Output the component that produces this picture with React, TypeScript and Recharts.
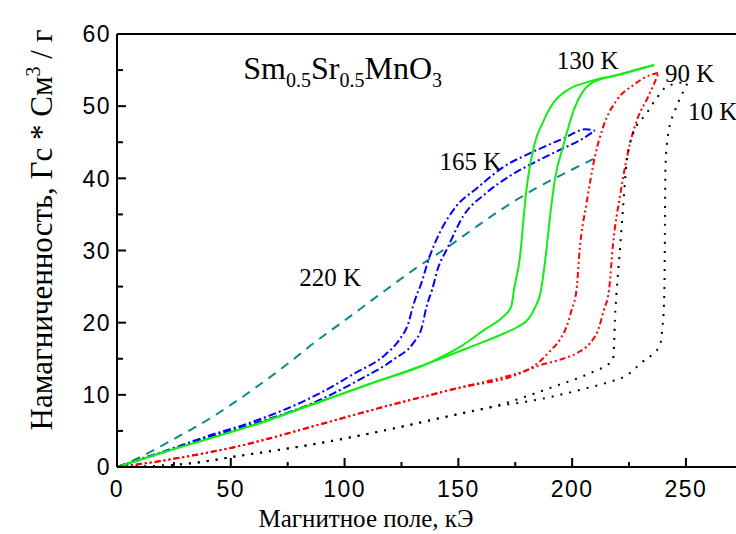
import React from "react";
import { LineChart, Line, XAxis, YAxis, ReferenceLine, ReferenceDot } from "recharts";

// Magnetization loops of Sm0.5Sr0.5MnO3 (field in kOe, moment in emu/g)
const field220 = [0, 5, 11, 20, 28, 36, 50, 60, 75, 87, 100, 118, 132, 145, 157, 168, 184, 198, 210];
const moment220 = [0, 0.6, 1.5, 3.0, 4.4, 5.8, 8.6, 10.8, 14.3, 17.3, 20.3, 24.5, 27.7, 30.4, 33.1, 35.5, 38.6, 40.9, 42.8];

const field165Up = [0, 10, 20, 40, 60, 87, 106, 122, 130, 134, 136, 138.5, 141, 145, 152, 162, 172, 184, 195, 203, 210];
const moment165Up = [0, 1.0, 2.0, 4.1, 6.0, 9.0, 12.0, 15.0, 17.1, 19.4, 22.2, 24.6, 27.5, 30.2, 34.7, 37.9, 40.2, 42.3, 44.0, 45.2, 46.6];
const field165Down = [0, 10, 20, 40, 60, 89, 104, 118, 124, 128, 130, 132, 133.2, 137.3, 141.7, 149, 158, 170, 183, 196, 206, 210];
const moment165Down = [0, 1.1, 2.1, 4.3, 6.3, 10.2, 12.9, 15.6, 17.6, 19.9, 22.2, 24.1, 25.0, 29.1, 32.4, 36.1, 38.6, 41.6, 43.7, 45.5, 46.8, 46.6];

const field130Up = [0, 10, 20, 40, 60, 87, 111, 137, 155, 170, 176, 181, 184, 186, 187.5, 189, 190.5, 192.5, 196, 201, 208, 221, 236];
const moment130Up = [0, 1.0, 2.0, 3.9, 5.8, 8.8, 11.5, 14.4, 16.6, 18.5, 19.4, 20.6, 22.3, 24.0, 27.0, 31.0, 35.3, 40.0, 44.4, 49.7, 53.1, 54.4, 55.7];
const field130Down = [0, 10, 20, 40, 60, 87, 111, 137, 150.5, 162.3, 169.6, 173.3, 174.4, 176.9, 179.9, 183.5, 187.2, 191.6, 198.9, 206.3, 221, 236];
const moment130Down = [0, 1.0, 2.0, 3.9, 5.8, 8.8, 11.5, 14.4, 16.6, 19.2, 20.8, 22.3, 24.5, 28.7, 38.4, 44.8, 47.8, 50.4, 52.4, 53.3, 54.4, 55.7];

const field90Up = [0, 10, 26, 55, 88, 118, 148, 180, 186, 196, 203.3, 207.7, 211.4, 213.9, 216.2, 218, 221, 225.4, 229, 233.4, 236.4, 238];
const moment90Up = [0, 0.4, 1.2, 3.0, 5.8, 8.4, 10.8, 13.4, 14.1, 15.0, 16.0, 17.1, 19.0, 21.7, 24.5, 31.0, 37.5, 44.8, 48.5, 51.3, 53.4, 54.6];
const field90Down = [0, 10, 26, 55, 88, 118, 148, 180, 185.7, 190.1, 194.5, 197.5, 199.7, 201.9, 203.3, 206.3, 210, 213.6, 219.5, 226.8, 234.2, 238];
const moment90Down = [0, 0.4, 1.2, 3.0, 5.8, 8.4, 10.8, 13.4, 14.6, 16.0, 17.6, 19.4, 21.7, 24.5, 30.1, 36.5, 43.0, 47.1, 50.8, 52.9, 54.3, 54.6];

const field10Up = [0, 10, 20, 29, 55, 89, 118, 148, 168, 179, 192, 206, 216.5, 224, 231, 235.6, 238.6, 239.7, 240.3, 240.6, 240.8, 241, 242.2, 245.2, 248.8, 251];
const moment10Up = [0, 0.05, 0.2, 0.4, 1.6, 3.3, 5.1, 7.2, 8.5, 9.0, 9.8, 10.9, 11.8, 12.7, 14.6, 15.7, 16.9, 19.4, 22.2, 26.0, 34.7, 41.6, 46.2, 49.4, 52.0, 53.4];
const field10Down = [0, 10, 20, 29, 55, 89, 118, 148, 168, 180, 191.6, 203.3, 211.4, 215.4, 218, 218.5, 218.8, 219.5, 221, 222.4, 223.9, 226.8, 232.7, 237.1, 241.5, 251];
const moment10Down = [0, 0.05, 0.2, 0.4, 1.6, 3.3, 5.1, 7.2, 8.6, 9.8, 11.1, 12.4, 13.5, 14.1, 15.0, 17.6, 20.4, 24.1, 30.1, 36.1, 42.1, 46.2, 49.0, 51.1, 52.7, 53.4];

const xTicks = [0, 25, 50, 75, 100, 125, 150, 175, 200, 225, 250];
const yTicks = [0, 5, 10, 15, 20, 25, 30, 35, 40, 45, 50, 55, 60];

const noteText = ["130 K", "90 K", "10 K", "165 K", "220 K"];
const noteX = [193.2, 240.8, 250.9, 141.7, 80.1];
const noteY = [55.1, 53.4, 48.1, 41.1, 25.1];

const zip = (xs: number[], ys: number[]) => xs.map((x, i) => ({ x, y: ys[i] }));

const series = [
  { key: "220", data: zip(field220, moment220), color: "#0a8a8a", dash: "9 7" },
  { key: "165u", data: zip(field165Up, moment165Up), color: "#0000ff", dash: "8 3 2 3" },
  { key: "165d", data: zip(field165Down, moment165Down), color: "#0000ff", dash: "8 3 2 3" },
  { key: "130u", data: zip(field130Up, moment130Up), color: "#11ee11", dash: undefined },
  { key: "130d", data: zip(field130Down, moment130Down), color: "#11ee11", dash: undefined },
  { key: "90u", data: zip(field90Up, moment90Up), color: "#ff0000", dash: "6 3 2 3 2 3" },
  { key: "90d", data: zip(field90Down, moment90Down), color: "#ff0000", dash: "6 3 2 3 2 3" },
  { key: "10u", data: zip(field10Up, moment10Up), color: "#000000", dash: "2 7" },
  { key: "10d", data: zip(field10Down, moment10Down), color: "#000000", dash: "2 7" },
];

const SERIF = "'Liberation Serif', 'DejaVu Serif', serif";
const SANS = "'Liberation Sans', Arial, sans-serif";

const XTick = (props: any) => {
  const { x, y, payload } = props;
  const major = payload.value % 50 === 0;
  return (
    <g>
      <line x1={x} y1={y} x2={x} y2={y - (major ? 9 : 5)} stroke="#000" strokeWidth={2} />
      {major && (
        <text x={x} y={y + 30} textAnchor="middle" fontFamily={SANS} fontSize={23} letterSpacing={1.5} fill="#000">
          {payload.value}
        </text>
      )}
    </g>
  );
};

const YTick = (props: any) => {
  const { x, y, payload } = props;
  const major = payload.value % 10 === 0;
  return (
    <g>
      <line x1={x} y1={y} x2={x + (major ? 9 : 6)} y2={y} stroke="#000" strokeWidth={2} />
      {major && (
        <text x={x - 6} y={y} dy="0.36em" textAnchor="end" fontFamily={SANS} fontSize={23} letterSpacing={1.5} fill="#000">
          {payload.value}
        </text>
      )}
    </g>
  );
};

const noteShape = (text: string) => (p: any) => (
  <text x={p.cx} y={p.cy} fontFamily={SERIF} fontSize={25} fill="#000">{text}</text>
);

const titleShape = (p: any) => (
  <text x={p.cx} y={p.cy} fontFamily={SERIF} fontSize={32} fill="#000">
    Sm<tspan fontSize={20} dy={8}>0.5</tspan>
    <tspan dy={-8}>Sr</tspan>
    <tspan fontSize={20} dy={8}>0.5</tspan>
    <tspan dy={-8}>MnO</tspan>
    <tspan fontSize={20} dy={8}>3</tspan>
  </text>
);

export default function App() {
  return (
    <div style={{ position: "absolute", left: 0, top: 0, background: "#fff" }}>
      <LineChart width={736} height={534} margin={{ top: 34, right: 0, left: 0, bottom: 0 }}>
        <XAxis
          type="number" dataKey="x" domain={[0, 272]} allowDataOverflow
          ticks={xTicks} interval={0} tickSize={0} tickMargin={0}
          tick={<XTick />} height={67}
          axisLine={{ stroke: "#000", strokeWidth: 2 }}
          label={{
            content: () => (
              <text x={366} y={527} textAnchor="middle" style={{ fontFamily: SERIF }} fontSize={25} fill="#000">
                Магнитное поле, кЭ
              </text>
            ),
          }}
        />
        <YAxis
          type="number" domain={[0, 60]} ticks={yTicks} interval={0}
          tickSize={0} tickMargin={0} tick={<YTick />} width={117}
          axisLine={{ stroke: "#000", strokeWidth: 2 }}
          label={{
            content: () => (
              <text transform="translate(52,230) rotate(-90)" textAnchor="middle" style={{ fontFamily: SERIF }} fontSize={31} fill="#000">
                Намагниченность, Гс * См<tspan fontSize={20} dy={-12}>3</tspan><tspan dy={12}> / г</tspan>
              </text>
            ),
          }}
        />
        <ReferenceLine y={60} stroke="#000" strokeWidth={2} />
        {series.map((s) => (
          <Line
            key={s.key} data={s.data} dataKey="y" type="monotone"
            stroke={s.color} strokeWidth={2} strokeDasharray={s.dash}
            dot={false} activeDot={false} isAnimationActive={false}
          />
        ))}
        {noteText.map((t, i) => (
          <ReferenceDot key={t} x={noteX[i]} y={noteY[i]} r={0} shape={noteShape(t)} />
        ))}
        <ReferenceDot x={55.5} y={53.8} r={0} shape={titleShape} />
      </LineChart>
    </div>
  );
}
